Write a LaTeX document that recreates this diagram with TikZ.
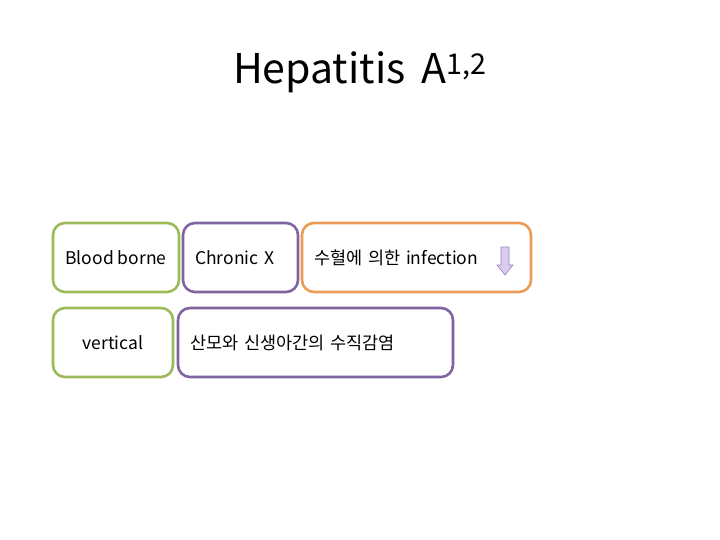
\documentclass[tikz,border=0pt]{standalone}
\usepackage{fontspec}
\setmainfont{Noto Sans CJK KR}
\usetikzlibrary{positioning}

\definecolor{boxgreen}{HTML}{9BBB59}
\definecolor{boxpurple}{HTML}{8064A2}
\definecolor{boxorange}{HTML}{EB9B55}
\definecolor{arrowfill}{HTML}{D9CCF0}

\begin{document}
\begin{tikzpicture}[x=1pt,y=-1pt,
  box/.style={draw,line width=2.6pt,rounded corners=12pt,minimum height=69pt,
    inner xsep=12pt,font=\fontsize{17.5}{20}\selectfont},
  greenbox/.style={box,draw=boxgreen},
  purplebox/.style={box,draw=boxpurple},
  orangebox/.style={box,draw=boxorange}]
\useasboundingbox (0,0) rectangle (720,540);
% title
\node[font=\fontsize{41}{48}\selectfont] (title) at (360,72) {Hepatitis\, A\textsuperscript{1,2}};
% first row
\node[greenbox,minimum width=126pt] (blood) at (116,257.5) {Blood borne};
\node[purplebox,text width=91pt,align=left] (chronic) at (240.5,257.5) {Chronic X};
\node[orangebox,text width=205pt,align=left] (transfusion) at (416.5,257.5) {수혈에 의한 infection};
% second row
\node[greenbox,minimum width=120pt] (vertical) at (113,342.5) {vertical};
\node[purplebox,text width=251pt,align=left] (perinatal) at (315.5,342.5) {산모와 신생아간의 수직감염};
% down arrow
\draw[boxpurple!80,fill=arrowfill,line width=0.6pt]
  (501,247) -- (509,247) -- (509,265) -- (513,265) -- (505,275)
  -- (497,265) -- (501,265) -- cycle;
\end{tikzpicture}
\end{document}
